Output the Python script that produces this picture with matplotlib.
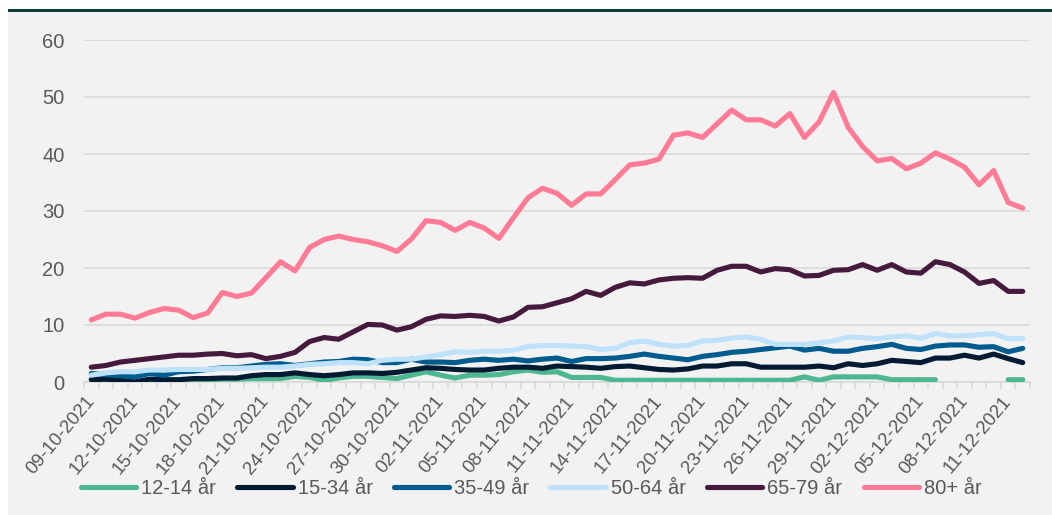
import numpy as np
import pandas as pd
import matplotlib
matplotlib.use("Agg")
import matplotlib.pyplot as plt
from matplotlib.patches import Rectangle

plt.rcParams["font.family"] = ["Liberation Sans", "DejaVu Sans"]

dates = pd.date_range("2021-10-09", "2021-12-12", freq="D")
labels = [d.strftime("%d-%m-%Y") for d in dates]

nan = np.nan
age_12_14 = [0.5, 0.5, 0.3, 0.0, 0.4, 0.3, 0.3, 0.4, 0.4, 0.5,
             0.5, 0.6, 0.6, 0.6, 1.0, 0.8, 0.3, 0.7, 1.0, 1.0,
             0.8, 0.6, 1.2, 1.8, 1.2, 0.7, 1.2, 1.2, 1.3, 1.8,
             2.1, 1.7, 1.8, 0.8, 0.8, 0.8, 0.3, 0.3, 0.3, 0.3,
             0.3, 0.3, 0.3, 0.3, 0.3, 0.3, 0.3, 0.3, 0.3, 0.9,
             0.3, 0.9, 0.9, 0.9, 0.9, 0.4, 0.4, 0.4, 0.4, nan,
             nan, nan, nan, 0.4, 0.4]
age_15_34 = [0.4, 0.5, 0.3, 0.0, 0.5, 0.4, 0.4, 0.6, 0.6, 0.7,
             0.7, 1.1, 1.3, 1.3, 1.6, 1.3, 1.1, 1.3, 1.6, 1.6,
             1.5, 1.7, 2.1, 2.5, 2.4, 2.2, 2.1, 2.1, 2.4, 2.6,
             2.6, 2.4, 2.8, 2.7, 2.6, 2.4, 2.7, 2.8, 2.5, 2.2,
             2.1, 2.3, 2.8, 2.8, 3.2, 3.2, 2.6, 2.6, 2.6, 2.6,
             2.8, 2.5, 3.2, 2.9, 3.2, 3.8, 3.6, 3.4, 4.2, 4.2,
             4.7, 4.2, 4.9, 4.1, 3.4]
age_35_49 = [1.5, 1.3, 1.1, 0.9, 1.5, 1.2, 1.8, 1.9, 2.2, 2.5,
             2.5, 2.8, 3.1, 3.2, 2.9, 3.2, 3.5, 3.6, 4.0, 3.9,
             3.4, 3.4, 4.0, 3.5, 3.5, 3.4, 3.8, 4.0, 3.8, 4.0,
             3.7, 4.0, 4.2, 3.6, 4.1, 4.1, 4.2, 4.5, 4.9, 4.5,
             4.2, 3.9, 4.5, 4.8, 5.2, 5.4, 5.7, 6.0, 6.3, 5.6,
             5.9, 5.4, 5.4, 5.9, 6.2, 6.6, 5.9, 5.7, 6.3, 6.5,
             6.5, 6.1, 6.2, 5.3, 5.9]
age_50_64 = [1.2, 1.6, 1.8, 1.8, 2.1, 2.1, 2.2, 2.2, 2.2, 2.4,
             2.4, 2.5, 2.6, 2.6, 2.8, 3.1, 3.2, 3.4, 3.4, 3.2,
             3.8, 4.0, 4.0, 4.4, 4.8, 5.3, 5.2, 5.4, 5.4, 5.6,
             6.2, 6.4, 6.4, 6.3, 6.2, 5.7, 5.9, 6.9, 7.2, 6.6,
             6.3, 6.4, 7.2, 7.3, 7.7, 7.9, 7.5, 6.6, 6.6, 6.6,
             6.9, 7.2, 7.9, 7.8, 7.6, 7.9, 8.1, 7.7, 8.5, 8.1,
             8.1, 8.3, 8.5, 7.6, 7.6]
age_65_79 = [2.6, 2.9, 3.5, 3.8, 4.1, 4.4, 4.7, 4.7, 4.9, 5.0,
             4.6, 4.8, 4.1, 4.5, 5.2, 7.1, 7.8, 7.5, 8.8, 10.1,
             10.0, 9.1, 9.7, 11.0, 11.6, 11.5, 11.7, 11.5, 10.7, 11.4,
             13.1, 13.2, 13.9, 14.6, 15.9, 15.2, 16.6, 17.4, 17.2, 17.9,
             18.2, 18.3, 18.2, 19.6, 20.3, 20.3, 19.3, 19.9, 19.7, 18.6,
             18.7, 19.6, 19.7, 20.6, 19.6, 20.6, 19.3, 19.1, 21.1, 20.6,
             19.3, 17.3, 17.8, 15.9, 15.9]
age_80 = [10.9, 11.9, 11.9, 11.2, 12.2, 12.9, 12.6, 11.3, 12.1, 15.7,
          15.0, 15.6, 18.3, 21.1, 19.5, 23.6, 25.0, 25.6, 25.0, 24.6,
          23.9, 22.9, 25.1, 28.3, 28.0, 26.6, 28.0, 27.0, 25.2, 28.8,
          32.3, 34.0, 33.1, 31.0, 33.0, 33.0, 35.5, 38.1, 38.4, 39.1,
          43.3, 43.7, 42.9, 45.3, 47.7, 46.0, 46.0, 44.9, 47.1, 42.9,
          45.6, 50.8, 44.7, 41.3, 38.8, 39.2, 37.4, 38.4, 40.2, 39.1,
          37.7, 34.6, 37.1, 31.5, 30.5]

series = [
    ("12-14 år", age_12_14, "#4db88f"),
    ("15-34 år", age_15_34, "#021b33"),
    ("35-49 år", age_35_49, "#005b8e"),
    ("50-64 år", age_50_64, "#bfe2fb"),
    ("65-79 år", age_65_79, "#461a3d"),
    ("80+ år", age_80, "#ff7b95"),
]

txt = "#595959"
grid = "#d9d9d9"

fig = plt.figure(figsize=(10.52, 5.15), dpi=100)
fig.add_artist(Rectangle((8 / 1052, 0), 1 - 8 / 1052, 1 - 12 / 515,
                         transform=fig.transFigure, facecolor="#f2f2f2",
                         edgecolor="none", zorder=-2))
fig.add_artist(Rectangle((8 / 1052, 1 - 12 / 515), 1 - 8 / 1052, 3 / 515,
                         transform=fig.transFigure, facecolor="#0b3d35",
                         edgecolor="none", zorder=-1))

ax = fig.add_axes([84 / 1052, 133 / 515, (1030 - 84) / 1052, (382 - 40) / 515])
ax.set_facecolor("none")

x = np.arange(len(labels))
for name, vals, col in series:
    ax.plot(x, vals, color=col, lw=3.7, label=name,
            solid_capstyle="round", solid_joinstyle="round", zorder=3)

ax.set_xlim(-0.5, len(labels) - 0.5)
ax.set_ylim(0, 60)
ax.set_yticks(range(0, 61, 10))
ax.yaxis.grid(True, color=grid, lw=1.2)
ax.set_axisbelow(True)
for s in ["top", "right", "left"]:
    ax.spines[s].set_visible(False)
ax.spines["bottom"].set_color(grid)
ax.spines["bottom"].set_linewidth(1.2)
ax.tick_params(axis="y", length=0, pad=14, labelsize=14.5, labelcolor=txt)

ax.set_xticks(x[::3])
ax.set_xticklabels(labels[::3], rotation=50, ha="right", va="center",
                   rotation_mode="anchor")
ax.set_xticks(np.arange(-0.5, len(labels)), minor=True)
ax.tick_params(axis="x", which="major", length=0, pad=12, labelsize=13.5, labelcolor=txt)
ax.tick_params(axis="x", which="minor", length=5, color=grid, width=1.2)

fig.legend(loc="center", bbox_to_anchor=(0.505, 0.052), ncol=6, frameon=False,
           fontsize=14.5, labelcolor=txt, handlelength=2.75, handletextpad=0.25,
           columnspacing=1.05)

fig.savefig("out.png", dpi=100)
